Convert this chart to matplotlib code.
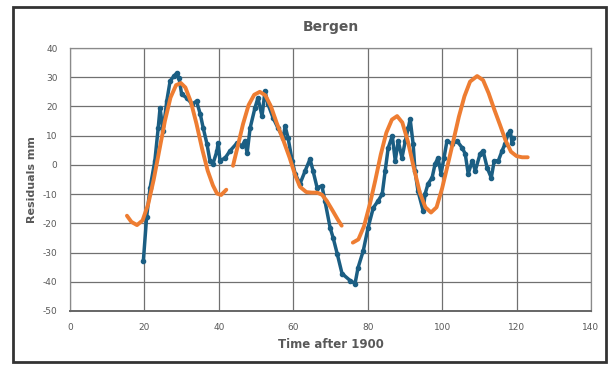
import matplotlib.pyplot as plt
from matplotlib.patches import Rectangle

plt.rcParams['axes.unicode_minus'] = False

# observed residuals (blue)
obs_t = [19.7, 20.6, 21.5, 22.8, 23.7, 24.2, 25.0, 26.0, 26.9, 28.0, 28.7, 29.3,
         30.0, 31.4, 32.8, 34.0, 35.0, 35.8, 36.8, 37.6, 38.4, 39.5, 39.8, 40.3,
         41.7, 43.0, 44.9, 46.2, 47.0, 47.6, 48.4, 49.7, 50.5, 51.6, 52.4, 53.2,
         54.6, 55.9, 57.3, 57.8, 58.6, 59.7, 60.5, 61.8, 63.2, 64.5, 65.3, 66.4,
         67.7, 68.5, 69.9, 70.7, 71.8, 73.1, 75.3, 76.6, 77.4, 78.8, 80.1, 81.5,
         82.8, 83.9, 84.7, 85.5, 86.6, 87.4, 88.2, 89.2, 90.1, 90.9, 91.4, 92.2,
         92.7, 93.5, 94.9, 95.4, 96.2, 97.3, 98.1, 98.9, 99.7, 100.5, 101.3, 102.7,
         104.0, 105.4, 106.2, 107.0, 108.1, 108.9, 110.2, 111.0, 112.1, 113.2, 114.0,
         115.1, 116.1, 116.9, 117.7, 118.3, 118.8, 119.1]
obs_r = [-33.0, -17.7, -8.0, 1.4, 12.6, 19.5, 11.6, 21.8, 28.7, 30.5, 31.4, 29.7,
         24.2, 22.9, 20.8, 21.8, 17.4, 12.6, 7.2, 1.4, 0.3, 4.8, 7.5, 1.4,
         2.4, 4.8, 7.5, 6.5, 8.2, 4.0, 12.6, 19.5, 22.9, 16.7, 25.3, 20.8,
         16.0, 12.6, 9.2, 13.3, 9.2, 1.4, -3.0, -6.5, -2.0, 2.0, -2.0, -7.8,
         -7.2, -12.3, -21.5, -24.9, -30.4, -37.2, -39.6, -40.6, -35.2, -29.4, -21.5, -14.7,
         -12.3, -10.0, -2.0, 5.8, 9.9, 1.4, 8.2, 2.4, 8.2, 12.6, 15.7, 7.2,
         -2.0, -8.9, -15.7, -10.0, -6.5, -4.4, 0.3, 2.4, -3.0, 2.4, 8.2, 7.2,
         8.2, 5.8, 3.8, -3.0, 1.4, -2.0, 3.8, 4.8, -1.0, -4.4, 1.4,
         1.4, 4.8, 7.2, 10.6, 11.6, 7.5, 9.2]

# fitted curve pieces (orange)
fit1_t = [15.3, 16.5, 18.0, 19.5, 21.0, 22.5, 24.0, 25.5, 27.0, 28.5, 29.8, 31.0,
          32.5, 34.0, 35.5, 37.0, 38.4, 39.5, 40.6, 42.0]
fit1_r = [-17.4, -19.5, -20.6, -19.0, -13.5, -5.0, 5.0, 15.0, 23.0, 27.3, 28.0, 26.5,
          21.5, 14.0, 5.5, -2.0, -7.0, -9.8, -10.3, -8.5]
fit2_t = [43.8, 45.0, 46.5, 48.0, 49.5, 51.0, 52.5, 54.0, 55.5, 57.3, 59.0, 60.5,
          61.8, 63.5, 65.0, 66.4, 67.7, 69.0, 70.5, 72.0, 73.0]
fit2_r = [-0.3, 6.0, 14.0, 20.5, 24.0, 25.0, 23.8, 20.0, 14.5, 8.5, 2.5, -3.5,
          -7.5, -9.3, -9.5, -9.5, -10.2, -12.3, -15.5, -18.8, -20.8]
fit3_t = [76.0, 77.5, 79.0, 80.6, 82.0, 83.5, 85.0, 86.5, 87.9, 89.3, 90.8, 92.3,
          94.0, 95.5, 97.0, 98.5, 100.0, 101.5, 103.0, 104.5, 106.0, 107.5, 109.4,
          111.0, 112.5, 114.0, 115.6, 117.0, 118.5, 120.0, 121.5, 123.0]
fit3_r = [-26.6, -25.5, -21.0, -13.3, -5.5, 3.5, 11.0, 15.5, 16.7, 14.5, 8.0, -0.5,
          -9.5, -14.5, -16.3, -14.5, -8.0, 0.0, 8.2, 16.5, 23.5, 28.5, 30.4,
          29.0, 24.5, 19.0, 13.5, 8.5, 4.5, 3.0, 2.6, 2.6]

BLUE = '#1b5e83'
ORANGE = '#ee7d32'
GRAY = '#595959'

fig = plt.figure(figsize=(6.1, 3.65), dpi=100)
ax = fig.add_axes([70/610, 1 - 311/365, 521/610, 263/365])

ax.plot(obs_t, obs_r, '-o', color=BLUE, lw=2.5, ms=3, zorder=3)
for t, r in [(fit1_t, fit1_r), (fit2_t, fit2_r), (fit3_t, fit3_r)]:
    ax.plot(t, r, color=ORANGE, lw=2.8, solid_capstyle='round', zorder=4)

ax.set_xlim(0, 140)
ax.set_ylim(-50, 40)
ax.set_xticks(range(0, 141, 20))
ax.set_yticks(range(-50, 41, 10))
ax.grid(True, color='#707070', lw=0.9)
ax.set_axisbelow(True)
for s in ax.spines.values():
    s.set_color('#8a8a8a')
    s.set_linewidth(0.9)
ax.spines['bottom'].set_color('#666666')
ax.spines['bottom'].set_linewidth(1.4)
ax.tick_params(length=0, labelsize=6.5, labelcolor=GRAY, pad=9)

ax.set_title('Bergen', fontsize=10, fontweight='bold', color=GRAY, pad=12)
ax.set_xlabel('Time after 1900', fontsize=8.5, fontweight='bold', color=GRAY, labelpad=4)
ax.set_ylabel('Residuals mm', fontsize=8, fontweight='bold', color=GRAY, labelpad=4)

fig.patches.append(Rectangle((13/610, 1 - 362/365), 593/610, 355/365,
                             transform=fig.transFigure, fill=False,
                             edgecolor='#333333', lw=2))

plt.savefig('out.png', dpi=100)
